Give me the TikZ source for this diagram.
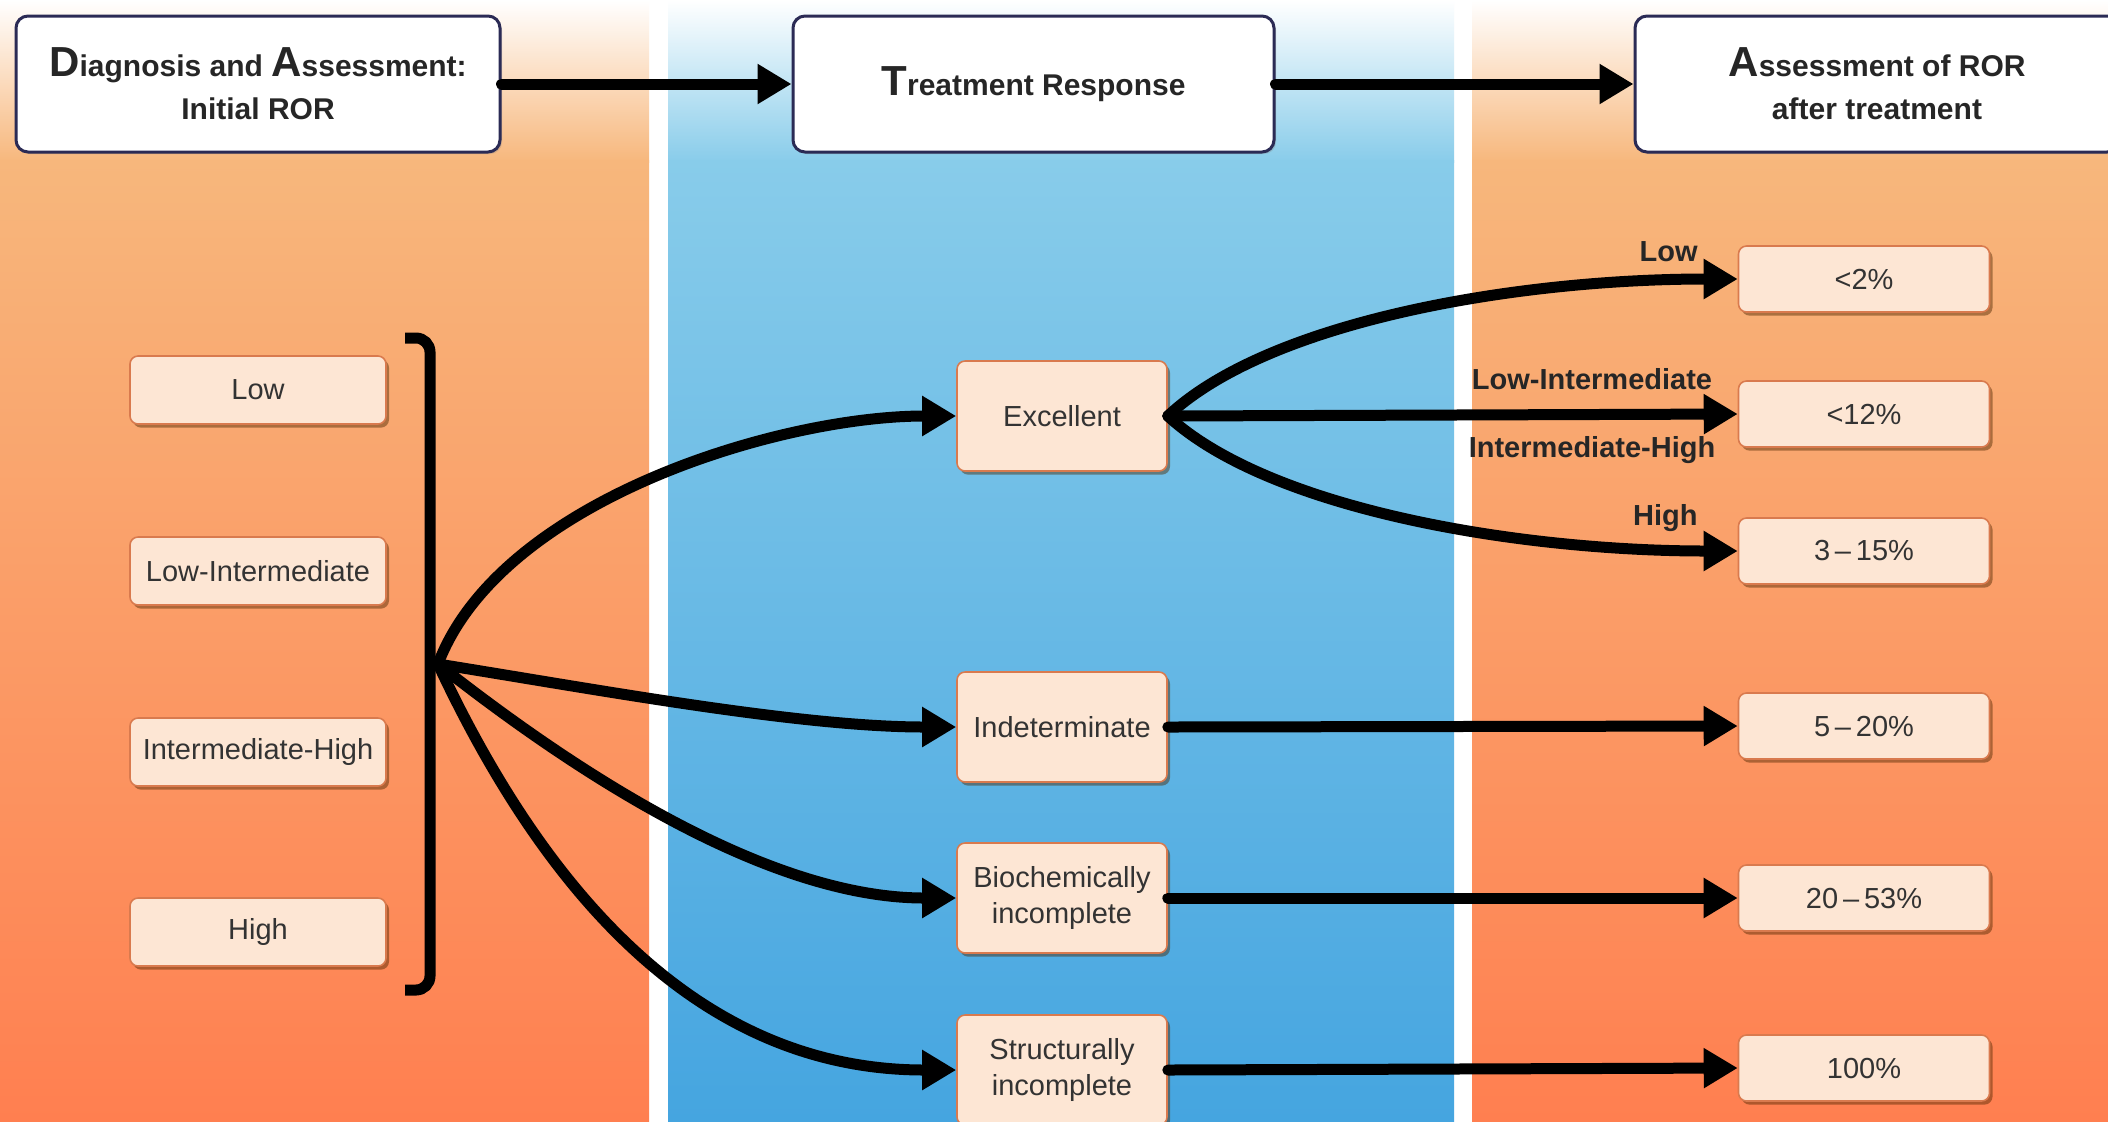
\documentclass[tikz,border=0pt]{standalone}
\usepackage{fontspec}
\setmainfont{Liberation Sans}
\usetikzlibrary{arrows.meta,shadows}
\definecolor{orT}{HTML}{F7B77C}
\definecolor{orM}{HTML}{FC9C6A}
\definecolor{orB}{HTML}{FF7F50}
\definecolor{blT}{HTML}{88CCEA}
\definecolor{blM}{HTML}{55B2E4}
\definecolor{blB}{HTML}{45A5E0}
\definecolor{boxfill}{HTML}{FDE6D4}
\definecolor{boxline}{HTML}{D97A4E}
\definecolor{navy}{HTML}{2B2B55}
\definecolor{txt}{HTML}{333333}
\newcommand\BigLet[1]{{\fontsize{21}{21.5}\selectfont #1}}
\tikzset{
  hdr/.style={draw=navy, line width=1.5pt, rounded corners=6pt, fill=white,
    minimum height=68pt, align=center, text=black!85,
    font=\fontsize{15}{21.5}\selectfont\bfseries,
    drop shadow={shadow xshift=1pt, shadow yshift=-1pt, opacity=0.3}},
  pbox/.style={draw=boxline, line width=0.8pt, rounded corners=4pt, fill=boxfill,
    align=center, text=txt, inner sep=2pt,
    font=\fontsize{14.5}{18}\selectfont,
    drop shadow={shadow xshift=1.5pt, shadow yshift=-1.8pt, opacity=0.45, fill=black!70!orange}},
  lbox/.style={pbox, minimum width=128pt, minimum height=34pt},
  mbox/.style={pbox, minimum width=105pt, minimum height=55pt},
  rbox/.style={pbox, minimum width=125.5pt, minimum height=33pt},
  arr/.style={line width=5.5pt, line cap=round, -{Triangle[length=17pt,width=19pt]}},
  lab/.style={font=\fontsize{14.5}{17}\selectfont\bfseries, text=black!85, inner sep=1pt}
}
\begin{document}
\begin{tikzpicture}[x=0.5pt,y=-0.5pt]
\useasboundingbox (0,0) rectangle (2108,1121);
\clip (0,0) rectangle (2108,1121);
\fill[white] (0,0) rectangle (2108,1121);
% panels
\shade[top color=white, bottom color=orT] (0,0) rectangle (649,162);
\shade[top color=orT, middle color=orM, bottom color=orB] (0,160) rectangle (649,1121);
\shade[top color=white, bottom color=blT] (668,0) rectangle (1454,162);
\shade[top color=blT, middle color=blM, bottom color=blB] (668,160) rectangle (1454,1121);
\shade[top color=white, bottom color=orT] (1472,0) rectangle (2108,162);
\shade[top color=orT, middle color=orM, bottom color=orB] (1472,160) rectangle (2108,1121);

% header boxes
\node[hdr, minimum width=242pt] (d) at (258,84) {\BigLet{D}iagnosis and \BigLet{A}ssessment:\\Initial ROR};
\node[hdr, minimum width=240.5pt] (t) at (1033.5,84) {\BigLet{T}reatment Response};
\node[hdr, minimum width=242pt] (a) at (1877,84) {\BigLet{A}ssessment of ROR\\after treatment};
\draw[arr] (d.east) -- (t.west);
\draw[arr] (t.east) -- (a.west);

% left boxes
\node[lbox] (l1) at (258,390) {Low};
\node[lbox] (l2) at (258,571) {Low-Intermediate};
\node[lbox] (l3) at (258,752) {Intermediate-High};
\node[lbox] (l4) at (258,932) {High};

% bracket
\coordinate (b1) at (405,338);
\coordinate (b2) at (430,338);
\coordinate (b3) at (430,990);
\coordinate (b4) at (405,990);
\draw[line width=5.5pt, rounded corners=7pt] (b1) -- (b2) -- (b3) -- (b4);
\coordinate (F) at (438,664);

% middle boxes
\node[mbox] (exc) at (1062,416) {Excellent};
\node[mbox] (ind) at (1062,727) {Indeterminate};
\node[mbox] (bio) at (1062,898) {Biochemically\\incomplete};
\node[mbox] (str) at (1062,1070) {Structurally\\incomplete};

% right boxes
\node[rbox] (r1) at (1864,279) {<2\%};
\node[rbox] (r2) at (1864,414) {<12\%};
\node[rbox] (r3) at (1864,551) {3\,–\,15\%};
\node[rbox] (r4) at (1864,726) {5\,–\,20\%};
\node[rbox] (r5) at (1864,898) {20\,–\,53\%};
\node[rbox] (r6) at (1864,1068) {100\%};

% fan arrows
\draw[arr] (F) .. controls (500,500) and (780,416) .. (exc.west);
\draw[arr] (F) .. controls (600,690) and (800,727) .. (ind.west);
\draw[arr] (F) .. controls (560,760) and (760,898) .. (bio.west);
\draw[arr] (F) .. controls (530,860) and (680,1070) .. (str.west);

% excellent outcomes
\draw[arr] (exc.east) .. controls (1270,320) and (1520,279) .. (r1.west);
\draw[arr] (exc.east) -- (r2.west);
\draw[arr] (exc.east) .. controls (1270,510) and (1520,551) .. (r3.west);
\draw[arr] (ind.east) -- (r4.west);
\draw[arr] (bio.east) -- (r5.west);
\draw[arr] (str.east) -- (r6.west);

% labels
\node[lab, anchor=east] (tl1) at (1700,252) {Low};
\node[lab] (tl2) at (1592,379) {Low-Intermediate};
\node[lab] (tl3) at (1592,450) {Intermediate-High};
\node[lab, anchor=east] (tl4) at (1700,518) {High};
\end{tikzpicture}
\end{document}
